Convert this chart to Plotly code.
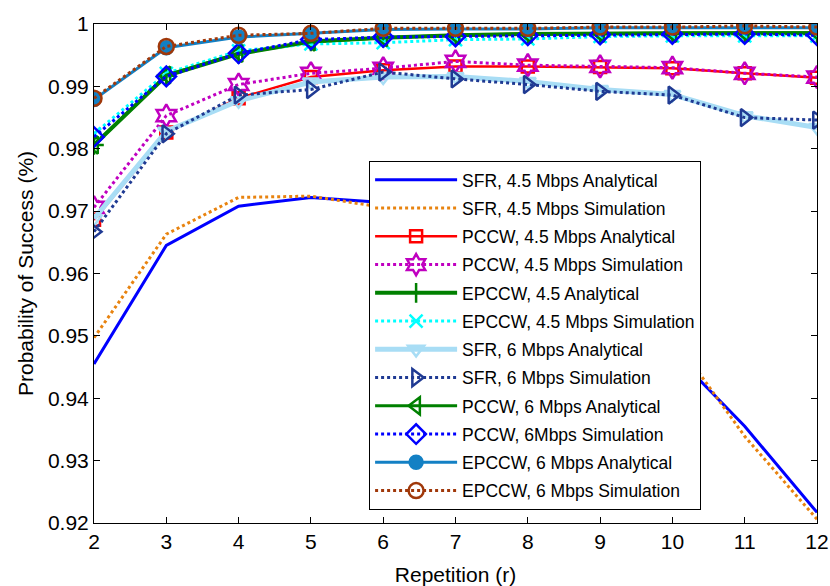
import plotly.graph_objects as go

# Repetition count r
repetitions = [2, 3, 4, 5, 6, 7, 8, 9, 10, 11, 12]

# Probability of success per scheme / rate
sfr45_analytical = [0.9455, 0.9645, 0.9708, 0.9722, 0.9714, 0.9695, 0.9660, 0.9590, 0.9474, 0.9355, 0.9217]
sfr45_simulation = [0.9497, 0.9663, 0.9722, 0.9724, 0.9706, 0.9698, 0.9672, 0.9610, 0.9500, 0.9339, 0.9206]
pccw45_analytical = [0.9686, 0.9826, 0.9881, 0.9915, 0.9926, 0.9932, 0.9932, 0.9931, 0.9929, 0.9921, 0.9914]
pccw45_simulation = [0.9706, 0.9853, 0.9903, 0.9921, 0.9929, 0.9940, 0.9934, 0.9932, 0.9930, 0.9921, 0.9915]
epccw45_analytical = [0.9806, 0.9917, 0.9952, 0.9972, 0.9978, 0.9982, 0.9984, 0.9985, 0.9985, 0.9985, 0.9985]
epccw45_simulation = [0.9824, 0.9921, 0.9957, 0.9968, 0.9970, 0.9975, 0.9976, 0.9980, 0.9981, 0.9981, 0.9981]
sfr6_analytical = [0.9688, 0.9828, 0.9877, 0.9907, 0.9915, 0.9916, 0.9908, 0.9895, 0.9887, 0.9853, 0.9834]
sfr6_simulation = [0.9667, 0.9824, 0.9886, 0.9895, 0.9923, 0.9912, 0.9903, 0.9892, 0.9886, 0.9850, 0.9846]
pccw6_analytical = [0.9806, 0.9918, 0.9953, 0.9971, 0.9978, 0.9982, 0.9984, 0.9985, 0.9985, 0.9986, 0.9986]
pccw6_simulation = [0.9819, 0.9916, 0.9953, 0.9975, 0.9979, 0.9980, 0.9982, 0.9983, 0.9984, 0.9984, 0.9982]
epccw6_analytical = [0.9879, 0.9962, 0.9979, 0.9985, 0.9991, 0.9992, 0.9992, 0.9994, 0.9994, 0.9995, 0.9994]
epccw6_simulation = [0.9881, 0.9964, 0.9982, 0.9985, 0.9993, 0.9993, 0.9993, 0.9995, 0.9995, 0.9997, 0.9995]

y_ticks = [0.92, 0.93, 0.94, 0.95, 0.96, 0.97, 0.98, 0.99, 1.0]
y_tick_labels = ["0.92", "0.93", "0.94", "0.95", "0.96", "0.97", "0.98", "0.99", "1"]

FONT = "Liberation Sans, Arial, sans-serif"

# (name, values, color, line width, dash, marker symbol, marker size)
series = [
    ("SFR, 4.5 Mbps Analytical", sfr45_analytical, "#0000FF", 3, "solid", None, 0),
    ("SFR, 4.5 Mbps Simulation", sfr45_simulation, "#E8830F", 3, "dot", None, 0),
    ("PCCW, 4.5 Mbps Analytical", pccw45_analytical, "#FF0000", 2.5, "solid", "square-open", 12),
    ("PCCW, 4.5 Mbps Simulation", pccw45_simulation, "#C000C0", 3, "dot", "hexagram-open", 17),
    ("EPCCW, 4.5 Analytical", epccw45_analytical, "#008000", 4, "solid", "cross-thin-open", 14),
    ("EPCCW, 4.5 Mbps Simulation", epccw45_simulation, "#00FFFF", 3, "dot", "x-thin-open", 13),
    ("SFR, 6 Mbps Analytical", sfr6_analytical, "#A8DDF5", 5, "solid", "triangle-down-open", 14),
    ("SFR, 6 Mbps Simulation", sfr6_simulation, "#1F3A93", 3, "dot", "triangle-right-open", 15),
    ("PCCW, 6 Mbps Analytical", pccw6_analytical, "#008000", 3, "solid", "triangle-left-open", 15),
    ("PCCW, 6Mbps Simulation", pccw6_simulation, "#0000FF", 3, "dot", "diamond-open", 15),
    ("EPCCW, 6 Mbps Analytical", epccw6_analytical, "#1380C4", 3, "solid", "circle", 13),
    ("EPCCW, 6 Mbps Simulation", epccw6_simulation, "#A0380A", 3, "dot", "circle-open", 15),
]

fig = go.Figure()
for i, (name, values, color, width, dash, symbol, size) in enumerate(series):
    kwargs = dict(
        x=repetitions,
        y=values,
        name=name,
        legendgroup=f"g{i}",
        line=dict(color=color, width=width, dash=dash),
    )
    if symbol:
        kwargs["mode"] = "lines+markers"
        kwargs["marker"] = dict(symbol=symbol, size=size, color=color,
                                line=dict(color=color, width=2.5))
    else:
        kwargs["mode"] = "lines"
    fig.add_trace(go.Scatter(**kwargs))

axis_common = dict(
    showline=True,
    linecolor="black",
    linewidth=1,
    mirror="ticks",
    ticks="inside",
    ticklen=6,
    tickcolor="black",
    showgrid=False,
    zeroline=False,
    tickfont=dict(family=FONT, size=21, color="black"),
)

fig.update_xaxes(
    range=[2, 12],
    tickvals=repetitions,
    automargin=False,
    title=dict(text="Repetition (r)", font=dict(family=FONT, size=21, color="black"), standoff=20),
    **axis_common,
)
fig.update_yaxes(
    range=[0.92, 1.0],
    tickvals=y_ticks,
    ticktext=y_tick_labels,
    title=dict(text="Probability of Success (%)", font=dict(family=FONT, size=21, color="black"), standoff=8),
    **axis_common,
)

fig.update_layout(
    width=830,
    height=586,
    margin=dict(l=94, r=13, t=17, b=63),
    plot_bgcolor="white",
    paper_bgcolor="white",
    font=dict(family=FONT, color="black"),
    legend=dict(
        x=0.3805,
        y=0.7255,
        xanchor="left",
        yanchor="top",
        bgcolor="white",
        bordercolor="black",
        borderwidth=1,
        font=dict(family=FONT, size=17.5, color="black"),
        tracegroupgap=2.5,
        itemwidth=82,
        traceorder="grouped",
    ),
)

fig.write_html("out.html")
